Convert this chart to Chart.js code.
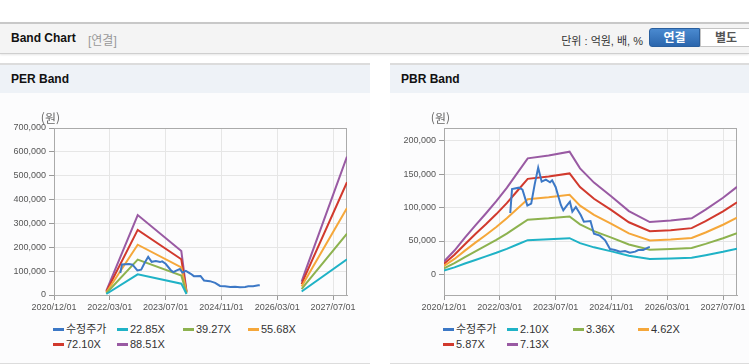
<!DOCTYPE html>
<html lang="ko">
<head>
<meta charset="utf-8">
<title>Band Chart</title>
<script src="https://cdn.jsdelivr.net/npm/chart.js@4.4.0/dist/chart.umd.min.js"></script>
<style>
  body { margin: 0; width: 749px; height: 364px; background: #fff; position: relative; overflow: hidden;
         font-family: 'Liberation Sans', Arial, 'Noto Sans CJK KR', sans-serif; color: #333; }
  .top { position: absolute; left: 0; top: 22px; width: 749px; height: 29px; background: #f4f4f4;
         border-top: 2px solid #c8c8c8; border-bottom: 1px solid #cfcfcf; box-shadow: 0 1px 2px rgba(0,0,0,0.1); }
  .top .name { position: absolute; left: 11px; top: 7px; font-size: 12px; font-weight: bold; color: #111; }
  .top .sub { position: absolute; left: 88px; top: 7px; font-size: 12px; color: #999; }
  .top .unit { position: absolute; right: 106px; top: 8px; font-size: 11px; color: #333; }
  .btn { position: absolute; top: 4px; height: 19px; line-height: 19px; text-align: center; font-size: 12px; font-weight: bold; box-sizing: border-box; }
  .btn.on { left: 649px; width: 51px; background: linear-gradient(#4a8ad0, #2b66ad); color: #fff; border: 1px solid #2a5f9e; border-radius: 3px 0 0 3px; }
  .btn.off { left: 700px; width: 52px; background: #fff; color: #555; border: 1px solid #c4c4c4; }
  .panel { position: absolute; top: 63px; height: 298px; background: #fcfcfd; border-top: 2px solid #dcdcdc; border-bottom: 2px solid #dcdcdc; }
  .panel .ptitle { height: 28px; line-height: 28px; background: #eef2f7; padding-left: 11px; font-size: 12px; font-weight: bold; color: #111; }
  .box { position: absolute; top: 95px; height: 223px; }
  .legend { position: absolute; top: 322px; display: grid; grid-template-columns: 64px 66px 65px 65px;
            font-size: 11px; line-height: 15px; color: #333; }
  .legend i { display: inline-block; width: 11px; height: 3px; vertical-align: middle; margin: -2px 2px 0 0; }
</style>
</head>
<body>
<div class="top">
  <span class="name">Band Chart</span><span class="sub">[연결]</span>
  <span class="unit">단위 : 억원, 배, %</span>
  <div class="btn on">연결</div><div class="btn off">별도</div>
</div>
<div class="panel" style="left:0; width:370px;"><div class="ptitle">PER Band</div></div>
<div class="panel" style="left:390px; width:359px;"><div class="ptitle" style="padding-left:11px;">PBR Band</div></div>
<div class="box" style="left:0; width:370px;"><canvas id="perChart"></canvas></div>
<div class="box" style="left:390px; width:359px;"><canvas id="pbrChart"></canvas></div>
<div class="legend" id="perLegend" style="left:53px;"></div>
<div class="legend" id="pbrLegend" style="left:443px;"></div>

<script>
// x values are months counted from 2020/12/01
const xTickMonths = [0, 16, 32, 48, 64, 80];
const xTickLabels = ['2020/12/01', '2022/03/01', '2023/07/01', '2024/11/01', '2026/03/01', '2027/07/01'];

// 수정주가 (same series on both charts)
const priceMonths = [19, 19.5, 21.5, 22.5, 23.9, 25, 26, 27, 28, 29.2, 30.4, 31, 32, 33.5, 34.2, 35.2, 36.1, 36.8, 37.8,
                     39.2, 40.1, 42, 43, 44.7, 46.2, 47.6, 49, 50.5, 51.9, 53.3, 54.8, 55.7, 57.1, 58.6, 59];
const priceValues = [92000, 128000, 130000, 127000, 103000, 106000, 135000, 160000, 139000, 142000, 138000, 141000, 131000,
                     104000, 96000, 103000, 109000, 94000, 101000, 89000, 79000, 80000, 61000, 58000, 51000, 38000,
                     36500, 34000, 35000, 32500, 34000, 36500, 36500, 40500, 41000];

// PER band (null = no data)
const perMonths = [15, 24, 36.5, 38, 50, 71, 72, 84];
const per2285 = [4300, 86500, 47500, 3900, null, 14500, 25300, 149700];
const per3927 = [7500, 148600, 81600, 6700, null, 24900, 43500, 257300];
const per5568 = [10600, 210700, 115800, 9500, null, 35200, 61600, 364900];
const per7210 = [13700, 272900, 149900, 12300, null, 45600, 79800, 472500];
const per8851 = [16800, 335000, 184000, 15000, null, 56000, 98000, 580000];

// PBR band
const pbrMonths = [0, 3, 6, 9, 12, 15, 18, 21, 24, 30, 36, 39, 43, 48, 53, 59, 65, 71, 75, 80, 84];
const pbr210 = [5700, 10500, 16200, 21600, 26900, 32300, 38200, 44700, 51200, 52500, 54200, 46800, 40500, 34400, 27900, 23100, 23700, 24800, 28600, 33800, 38600];
const pbr336 = [9100, 16800, 25900, 34600, 43000, 51700, 61200, 71600, 82000, 84000, 86700, 74900, 64800, 55100, 44700, 37000, 38000, 39600, 45700, 54100, 61800];
const pbr462 = [12500, 23100, 35600, 47600, 59100, 71100, 84100, 98400, 112700, 115500, 119200, 103000, 89200, 75800, 61400, 50800, 52200, 54500, 62800, 74400, 85000];
const pbr587 = [15800, 29400, 45200, 60500, 75100, 90400, 106800, 125000, 143200, 146800, 151400, 130900, 113300, 96300, 78100, 64600, 66300, 69300, 79800, 94500, 108000];
const pbr713 = [19300, 35700, 54900, 73400, 91300, 109800, 129800, 151900, 174000, 178300, 184000, 159000, 137600, 116900, 94800, 78400, 80600, 84100, 97000, 114800, 131200];

const perTicks = [0, 100000, 200000, 300000, 400000, 500000, 600000, 700000];
const pbrTicks = [0, 50000, 100000, 150000, 200000];

const colors = ['#3c78c6', '#1fb2c6', '#8db24f', '#f5a73a', '#d1392d', '#995aa3'];

function toPoints(months, values) {
    return months.map((m, i) => ({ x: m, y: values[i] }));
}

function makeDatasets(labels, series) {
    return series.map((pts, i) => ({
        label: labels[i],
        data: pts,
        borderColor: colors[i],
        backgroundColor: colors[i],
        borderWidth: 2,
        pointRadius: 0,
        tension: 0,
        spanGaps: false,
    }));
}

// frame around the plot and the (원) unit label
const framePlugin = {
    id: 'frame',
    beforeDatasetsDraw(chart) {
        const { ctx, chartArea: a } = chart;
        ctx.save();
        ctx.strokeStyle = '#aaaaaa';
        ctx.lineWidth = 1;
        ctx.strokeRect(a.left + 0.5, a.top + 0.5, a.right - a.left - 1, a.bottom - a.top);
        ctx.restore();
    },
    afterDraw(chart) {
        const { ctx, chartArea: a } = chart;
        ctx.save();
        ctx.font = '12px "Noto Sans CJK KR", sans-serif';
        ctx.fillStyle = '#666';
        ctx.textAlign = 'right';
        ctx.textBaseline = 'middle';
        ctx.fillText('(원)', a.left + 6, a.top - 10);
        ctx.restore();
    },
};

function makeChart(id, datasets, yMin, yMax, yTicks, padRight) {
    const ctx = document.getElementById(id).getContext('2d');
    return new Chart(ctx, {
        type: 'line',
        data: { datasets: datasets },
        plugins: [framePlugin],
        options: {
            responsive: true,
            maintainAspectRatio: false,
            animation: false,
            layout: { padding: { top: 33, right: padRight, left: 0, bottom: 0 } },
            plugins: { legend: { display: false }, tooltip: { enabled: false } },
            scales: {
                x: {
                    type: 'linear',
                    min: 0,
                    max: 84,
                    afterBuildTicks: (s) => { s.ticks = xTickMonths.map(v => ({ value: v })); },
                    afterFit: (s) => { s.height = 23; },
                    ticks: {
                        autoSkip: false,
                        maxRotation: 0,
                        padding: 2,
                        color: '#555',
                        font: { size: 9, family: "'Liberation Sans', Arial, sans-serif" },
                        callback: (v) => xTickLabels[xTickMonths.indexOf(v)],
                    },
                    grid: { color: '#e6e6e6', tickColor: '#999', tickLength: 5 },
                    border: { color: '#aaa' },
                },
                y: {
                    min: yMin,
                    max: yMax,
                    afterBuildTicks: (s) => { s.ticks = yTicks.map(v => ({ value: v })); },
                    afterFit: (s) => { s.width = 54; },
                    ticks: {
                        padding: 3,
                        color: '#555',
                        font: { size: 9, family: "'Liberation Sans', Arial, sans-serif" },
                        callback: (v) => v.toLocaleString('en-US'),
                    },
                    grid: { color: '#e6e6e6', tickColor: '#999', tickLength: 5 },
                    border: { color: '#aaa' },
                },
            },
        },
    });
}

function buildLegend(chart, elId) {
    const el = document.getElementById(elId);
    chart.data.datasets.forEach(ds => {
        const item = document.createElement('span');
        const mark = document.createElement('i');
        mark.style.background = ds.borderColor;
        item.appendChild(mark);
        item.appendChild(document.createTextNode(ds.label));
        el.appendChild(item);
    });
}

const pricePoints = toPoints(priceMonths, priceValues);

const perChart = makeChart('perChart', makeDatasets(
    ['수정주가', '22.85X', '39.27X', '55.68X', '72.10X', '88.51X'],
    [pricePoints, toPoints(perMonths, per2285), toPoints(perMonths, per3927), toPoints(perMonths, per5568),
     toPoints(perMonths, per7210), toPoints(perMonths, per8851)]
), 0, 700000, perTicks, 23);

const pbrChart = makeChart('pbrChart', makeDatasets(
    ['수정주가', '2.10X', '3.36X', '4.62X', '5.87X', '7.13X'],
    [pricePoints, toPoints(pbrMonths, pbr210), toPoints(pbrMonths, pbr336), toPoints(pbrMonths, pbr462),
     toPoints(pbrMonths, pbr587), toPoints(pbrMonths, pbr713)]
), -31000, 219500, pbrTicks, 12);

buildLegend(perChart, 'perLegend');
buildLegend(pbrChart, 'pbrLegend');
</script>
</body>
</html>
